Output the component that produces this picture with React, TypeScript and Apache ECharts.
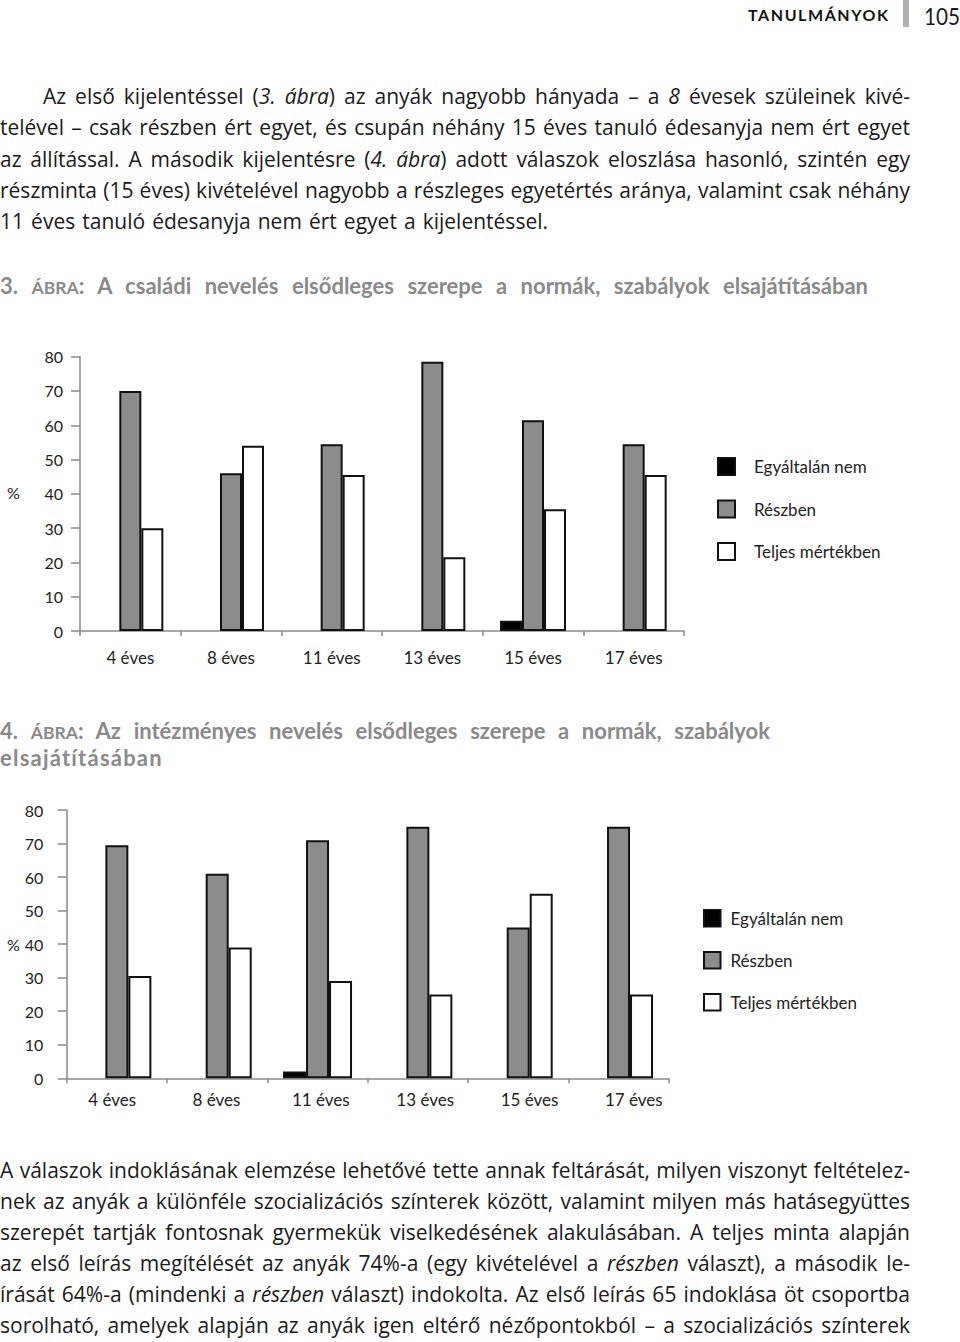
import React, { useEffect, useLayoutEffect, useRef } from "react";
import * as echarts from "echarts";

// ---------- data ----------
const categories = ["4 éves", "8 éves", "11 éves", "13 éves", "15 éves", "17 éves"];
const legendNames = ["Egyáltalán nem", "Részben", "Teljes mértékben"];
const yMin = 0;
const yMax = 80;
const yStep = 10;

// 3. ábra
const fig3None = [0, 0, 0, 0, 3, 0];
const fig3Partly = [70, 46, 54.5, 78.5, 61.5, 54.5];
const fig3Fully = [30, 54, 45.5, 21.5, 35.5, 45.5];

// 4. ábra
const fig4None = [0, 0, 2, 0, 0, 0];
const fig4Partly = [69.5, 61, 71, 75, 45, 75];
const fig4Fully = [30.5, 39, 29, 25, 55, 25];

// ---------- texts ----------
const headerText = "TANULMÁNYOK";
const pageNumber = "105";
const para1 = [
  "Az első kijelentéssel (*3. ábra*) az anyák nagyobb hányada – a *8* évesek szüleinek kivé-",
  "telével – csak részben ért egyet, és csupán néhány 15 éves tanuló édesanyja nem ért egyet",
  "az állítással. A második kijelentésre (*4. ábra*) adott válaszok eloszlása hasonló, szintén egy",
  "részminta (15 éves) kivételével nagyobb a részleges egyetértés aránya, valamint csak néhány",
  "11 éves tanuló édesanyja nem ért egyet a kijelentéssel.",
];
const fig3Title = ["3. ^ÁBRA^: A családi nevelés elsődleges szerepe a normák, szabályok elsajátításában"];
const fig4Title = [
  "4. ^ÁBRA^: Az intézményes nevelés elsődleges szerepe a normák, szabályok",
  "elsajátításában",
];
const para2 = [
  "A válaszok indoklásának elemzése lehetővé tette annak feltárását, milyen viszonyt feltételez-",
  "nek az anyák a különféle szocializációs színterek között, valamint milyen más hatásegyüttes",
  "szerepét tartják fontosnak gyermekük viselkedésének alakulásában. A teljes minta alapján",
  "az első leírás megítélését az anyák 74%-a (egy kivételével a *részben* választ), a második le-",
  "írását 64%-a (mindenki a *részben* választ) indokolta. Az első leírás 65 indoklása öt csoportba",
  "sorolható, amelyek alapján az anyák igen eltérő nézőpontokból – a szocializációs színterek",
];

const FONT = "Lato, 'Open Sans', 'DejaVu Sans', sans-serif";
const BODY_FONT = "'Open Sans', 'Noto Sans', Lato, sans-serif";

function renderSegs(s: string) {
  const out: any[] = [];
  let buf = "";
  let it = false;
  let sc = false;
  let k = 0;
  const flush = () => {
    if (buf) {
      out.push(
        <span key={k++} style={{ fontStyle: it ? "italic" : "normal", fontSize: sc ? "0.8em" : undefined }}>
          {buf}
        </span>
      );
    }
    buf = "";
  };
  for (const ch of s) {
    if (ch === "*") {
      flush();
      it = !it;
    } else if (ch === "^") {
      flush();
      sc = !sc;
    } else buf += ch;
  }
  flush();
  return out;
}

function TextLine(props: {
  x0: number;
  x1: number;
  base: number;
  size: number;
  weight?: number;
  color?: string;
  text: string;
  font?: string;
}) {
  const { x0, x1, base, size, weight = 400, color = "#1a1a1a", text, font = BODY_FONT } = props;
  const top = base - 0.887 * size;
  return (
    <div
      style={{
        position: "absolute",
        left: x0,
        top,
        height: size,
        lineHeight: `${size}px`,
        fontSize: size,
        fontFamily: font,
        fontWeight: weight,
        color,
        whiteSpace: "nowrap",
      }}
    >
      <span data-fit={x1 - x0} style={{ display: "inline-block", transformOrigin: "0 50%" }}>
        {renderSegs(text)}
      </span>
    </div>
  );
}

function fitAll(root: HTMLElement) {
  root.querySelectorAll<HTMLElement>("[data-fit]").forEach((el) => {
    el.style.wordSpacing = "0px";
    el.style.letterSpacing = "0px";
    el.style.transform = "none";
    const target = parseFloat(el.dataset.fit || "0");
    const w = el.getBoundingClientRect().width;
    if (!target || !w) return;
    const txt = el.textContent || "";
    const spaces = (txt.match(/ /g) || []).length;
    if (w > target) el.style.transform = `scaleX(${target / w})`;
    else if (spaces > 0) el.style.wordSpacing = `${(target - w) / spaces}px`;
    else el.style.letterSpacing = `${(target - w) / Math.max(1, txt.length - 1)}px`;
  });
}

const axisGrey = "#8a8a8a";
const partlyGrey = "#8c8c8c";
const barBorder = "#111";

function mkBar(name: string, color: string, values: number[], axis: number, width: number) {
  return {
    type: "bar",
    name,
    xAxisIndex: axis,
    yAxisIndex: axis,
    barWidth: width,
    barGap: "0%",
    silent: true,
    itemStyle: { color, borderColor: barBorder, borderWidth: 2 },
    data: values.map((v) => (v > 0 ? v : { value: v, itemStyle: { borderWidth: 0 } })),
  };
}

function yAxisOf(gi: number, margin: number, show = true) {
  return {
    type: "value",
    gridIndex: gi,
    show,
    min: yMin,
    max: yMax,
    interval: yStep,
    axisLine: { show: true, lineStyle: { color: axisGrey, width: 1.5 } },
    axisTick: { show: true, length: 9, lineStyle: { color: axisGrey, width: 1.5 } },
    splitLine: { show: false },
    axisLabel: { color: "#222", fontSize: 16, fontFamily: FONT, margin },
  };
}

function buildOption() {
  const xLabel = { color: "#222", fontSize: 17, fontFamily: FONT };
  return {
    animation: false,
    textStyle: { fontFamily: FONT },
    grid: [
      { left: 80, top: 356.7, width: 604, height: 274.3 },
      { left: 66.7, top: 810, width: 602, height: 268.3 },
      { left: 60, top: 810, width: 626, height: 268.3 },
    ],
    xAxis: [
      {
        type: "category",
        gridIndex: 0,
        data: categories,
        axisLine: { lineStyle: { color: axisGrey, width: 1.5 } },
        axisTick: { show: true, length: 5, lineStyle: { color: axisGrey, width: 1.5 } },
        axisLabel: { ...xLabel, margin: 18 },
      },
      {
        type: "category",
        gridIndex: 1,
        data: categories,
        axisLine: { lineStyle: { color: axisGrey, width: 1.5 } },
        axisTick: { show: true, length: 5, lineStyle: { color: axisGrey, width: 1.5 } },
        axisLabel: { show: false },
      },
      {
        type: "category",
        gridIndex: 2,
        data: categories,
        axisLine: { show: false },
        axisTick: { show: false },
        axisLabel: { ...xLabel, margin: 13 },
      },
    ],
    yAxis: [yAxisOf(0, 17), yAxisOf(1, 23.5), yAxisOf(2, 0, false)],
    legend: [
      {
        data: legendNames,
        orient: "vertical",
        left: 717,
        top: 457,
        padding: 0,
        itemWidth: 17,
        itemHeight: 17,
        itemGap: 23.5,
        icon: "rect",
        selectedMode: false,
        itemStyle: { borderColor: barBorder, borderWidth: 2 },
        textStyle: { fontSize: 17, color: "#222", fontFamily: FONT, lineHeight: 17, padding: [0, 0, 0, 14] },
      },
      {
        data: legendNames,
        orient: "vertical",
        left: 703,
        top: 909,
        padding: 0,
        itemWidth: 16.5,
        itemHeight: 16.5,
        itemGap: 23.5,
        icon: "rect",
        selectedMode: false,
        itemStyle: { borderColor: barBorder, borderWidth: 2 },
        textStyle: { fontSize: 17, color: "#222", fontFamily: FONT, lineHeight: 17, padding: [0, 0, 0, 5] },
      },
    ],
    graphic: [
      {
        type: "text",
        x: 13.5,
        y: 492,
        style: { text: "%", fontSize: 16, fontFamily: FONT, fill: "#222", align: "center", verticalAlign: "middle" },
      },
      {
        type: "text",
        x: 13.5,
        y: 944,
        style: { text: "%", fontSize: 16, fontFamily: FONT, fill: "#222", align: "center", verticalAlign: "middle" },
      },
    ],
    series: [
      mkBar(legendNames[0], "#000", fig3None, 0, 22),
      mkBar(legendNames[1], partlyGrey, fig3Partly, 0, 22),
      mkBar(legendNames[2], "#fff", fig3Fully, 0, 22),
      mkBar(legendNames[0], "#000", fig4None, 1, 23),
      mkBar(legendNames[1], partlyGrey, fig4Partly, 1, 23),
      mkBar(legendNames[2], "#fff", fig4Fully, 1, 23),
    ],
  };
}

export default function App() {
  const chartRef = useRef<HTMLDivElement>(null);
  const textRef = useRef<HTMLDivElement>(null);

  useLayoutEffect(() => {
    const root = textRef.current;
    if (!root) return;
    fitAll(root);
    let alive = true;
    const fonts = (document as any).fonts;
    if (fonts && fonts.ready) {
      fonts.ready.then(() => {
        if (alive) fitAll(root);
      });
    }
    return () => {
      alive = false;
    };
  }, []);

  useEffect(() => {
    if (!chartRef.current) return;
    const chart = echarts.init(chartRef.current, null, { renderer: "svg" });
    chart.setOption(buildOption() as any);
    return () => chart.dispose();
  }, []);

  const p1Bases = [105, 136, 167.3, 198.3, 229.3];
  const p2Bases = [1178.3, 1209.3, 1240.7, 1271.7, 1302.7, 1334];
  const titleGrey = "#8a8a8a";

  return (
    <div style={{ position: "absolute", left: 0, top: 0, width: 960, height: 1342, background: "#fff", overflow: "hidden" }}>
      <div ref={chartRef} style={{ position: "absolute", left: 0, top: 0, width: 960, height: 1342 }} />
      <div ref={textRef} style={{ position: "absolute", left: 0, top: 0, width: 960, height: 1342, pointerEvents: "none" }}>
        <TextLine x0={748} x1={888} base={20.7} size={16} weight={700} color="#111" text={headerText} font={FONT} />
        <div style={{ position: "absolute", left: 903, top: 0, width: 6, height: 27, background: "#b0b0b0" }} />
        <TextLine x0={924} x1={960} base={25} size={24} weight={400} color="#1a1a1a" text={pageNumber} font={FONT} />
        {para1.map((t, i) => (
          <TextLine key={"p1" + i} x0={i === 0 ? 43 : 0} x1={i === para1.length - 1 ? 548 : 910} base={p1Bases[i]} size={21} text={t} />
        ))}
        <TextLine x0={0} x1={868} base={294.3} size={22} weight={700} color={titleGrey} text={fig3Title[0]} font={FONT} />
        <TextLine x0={0} x1={770} base={740} size={22} weight={700} color={titleGrey} text={fig4Title[0]} font={FONT} />
        <TextLine x0={0} x1={162} base={767} size={22} weight={700} color={titleGrey} text={fig4Title[1]} font={FONT} />
        {para2.map((t, i) => (
          <TextLine key={"p2" + i} x0={0} x1={910} base={p2Bases[i]} size={21} text={t} />
        ))}
      </div>
    </div>
  );
}
